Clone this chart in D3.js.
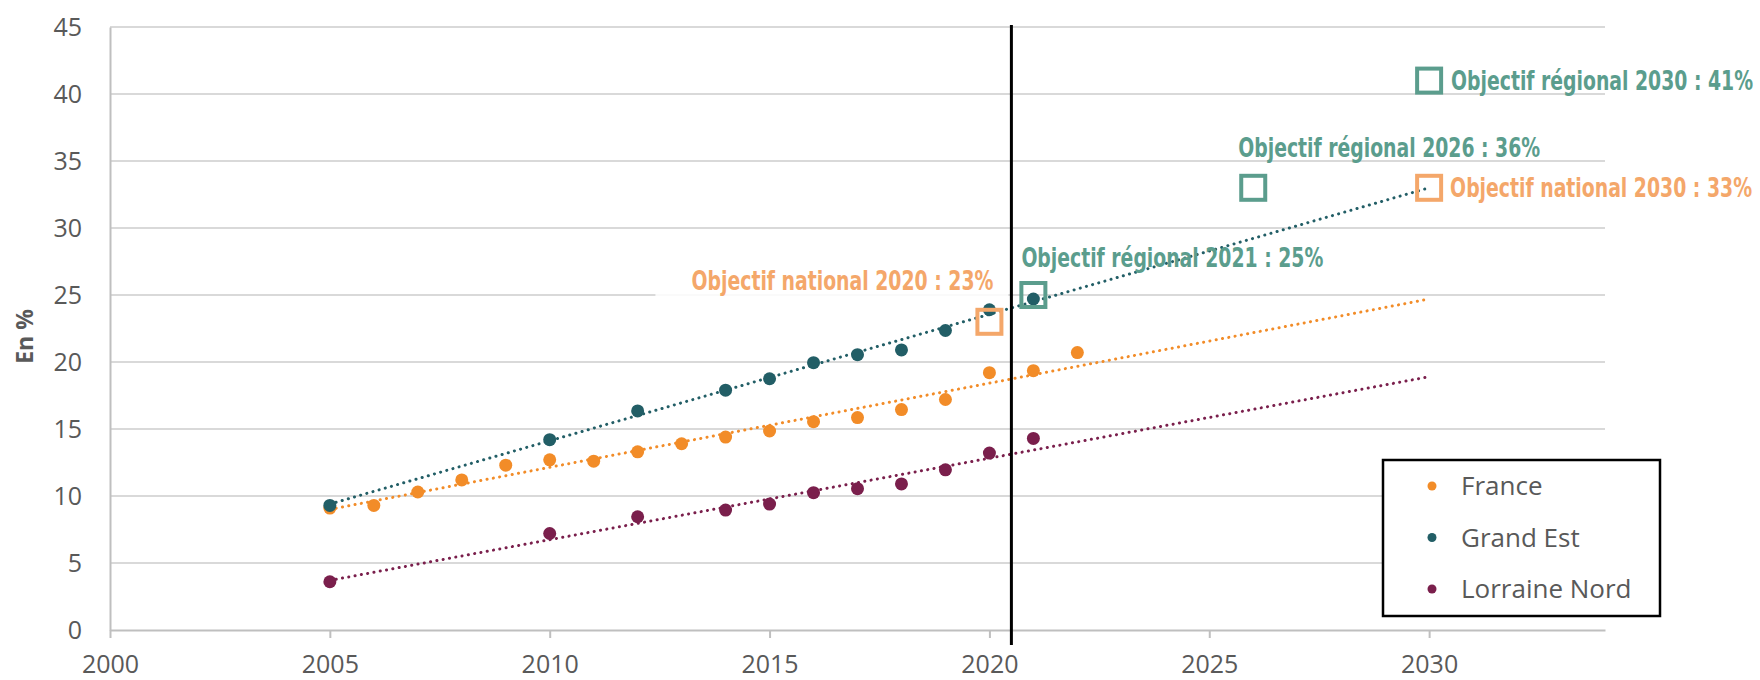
<!DOCTYPE html>
<html>
<head>
<meta charset="utf-8">
<script src="https://cdn.jsdelivr.net/npm/d3@7"></script>
<style>
  body { margin: 0; background: #fff; }
  svg { display: block; }
</style>
</head>
<body>
<div id="chart"></div>
<script>
// DATA
const franceYears = [2005, 2006, 2007, 2008, 2009, 2010, 2011, 2012, 2013, 2014, 2015, 2016, 2017, 2018, 2019, 2020, 2021, 2022];
const franceValues = [9.1, 9.3, 10.3, 11.2, 12.3, 12.7, 12.6, 13.3, 13.9, 14.4, 14.85, 15.55, 15.85, 16.45, 17.2, 19.2, 19.35, 20.7];

const grandEstYears = [2005, 2010, 2012, 2014, 2015, 2016, 2017, 2018, 2019, 2020, 2021];
const grandEstValues = [9.3, 14.2, 16.35, 17.9, 18.75, 19.95, 20.55, 20.9, 22.35, 23.9, 24.7];

const lorraineYears = [2005, 2010, 2012, 2014, 2015, 2016, 2017, 2018, 2019, 2020, 2021];
const lorraineValues = [3.6, 7.2, 8.45, 8.95, 9.4, 10.25, 10.55, 10.9, 11.95, 13.2, 14.3];

// trend lines (start / end)
const trendYears = [2005, 2030];
const franceTrend = [9.0, 24.7];
const grandEstTrend = [9.4, 33.0];
const lorraineTrend = [3.7, 18.9];

// targets
const targetYears = [2020, 2021, 2026, 2030, 2030];
const targetValues = [23, 25, 33, 41, 33];
const targetLabels = [
    "Objectif national 2020 : 23%",
    "Objectif régional 2021 : 25%",
    "Objectif régional 2026 : 36%",
    "Objectif régional 2030 : 41%",
    "Objectif national 2030 : 33%"
];
const targetKinds = ["national", "regional", "regional", "regional", "national"];

const seriesNames = ["France", "Grand Est", "Lorraine Nord"];
const xTicks = [2000, 2005, 2010, 2015, 2020, 2025, 2030];
const yTicks = [0, 5, 10, 15, 20, 25, 30, 35, 40, 45];
const markerYear = 2020.5;

// SET GLOBAL VARIABLES
const W = 1760, H = 680;
const margin = { top: 27, right: 155, bottom: 50, left: 110 };
const colors = { "France": "#f28c28", "Grand Est": "#225e66", "Lorraine Nord": "#7a1f4c" };
const targetColors = { national: "#f4a76a", regional: "#5b9d8d" };
const axisGrey = "#bfbfbf", gridGrey = "#d9d9d9", textGrey = "#595959";

const svg = d3.select("#chart")
    .append("svg")
    .attr("width", W)
    .attr("height", H);

const x = d3.scaleLinear()
    .domain([2000, 2034])
    .range([margin.left, W - margin.right]);

const y = d3.scaleLinear()
    .domain([0, 45])
    .range([H - margin.bottom, margin.top]);

// Gridlines
svg.append("g")
    .selectAll("line")
    .data(yTicks.filter(d => d > 0))
    .join("line")
    .attr("x1", x(2000))
    .attr("x2", x(2034))
    .attr("y1", d => y(d))
    .attr("y2", d => y(d))
    .attr("stroke", gridGrey)
    .attr("stroke-width", 2);

// X axis
const xAxis = svg.append("g")
    .attr("transform", `translate(0,${y(0)})`)
    .call(d3.axisBottom(x).tickValues(xTicks).tickFormat(d3.format("d")).tickSize(8).tickSizeOuter(0).tickPadding(17));
xAxis.select(".domain").attr("stroke", axisGrey).attr("stroke-width", 2);
xAxis.selectAll(".tick line").attr("stroke", axisGrey).attr("stroke-width", 2);
xAxis.selectAll("text")
    .attr("fill", textGrey)
    .style("font-family", "'Open Sans', sans-serif")
    .style("font-size", "25px");

// Y axis
const yAxis = svg.append("g")
    .attr("transform", `translate(${x(2000)},0)`)
    .call(d3.axisLeft(y).tickValues(yTicks).tickSize(0).tickSizeOuter(0).tickPadding(28));
yAxis.select(".domain").attr("stroke", axisGrey).attr("stroke-width", 2);
yAxis.selectAll("text")
    .attr("fill", textGrey)
    .style("font-family", "'Open Sans', sans-serif")
    .style("font-size", "25px");

// Axis label
svg.append("text")
    .attr("transform", `translate(33,${(y(0) + y(45)) / 2 + 8}) rotate(-90)`)
    .attr("text-anchor", "middle")
    .attr("fill", textGrey)
    .style("font-family", "'Open Sans', sans-serif")
    .style("font-weight", "bold")
    .style("font-size", "23px")
    .text("En %");

// Label background for national 2020 (hides the gridline)
svg.append("rect")
    .attr("x", x(2020) - 334)
    .attr("y", y(25) - 33)
    .attr("width", 353)
    .attr("height", 38)
    .attr("fill", "#fff")
    .attr("opacity", 0.85);

// Trend lines
const trendSeries = [
    { name: "France", values: franceTrend },
    { name: "Grand Est", values: grandEstTrend },
    { name: "Lorraine Nord", values: lorraineTrend }
];
const line = d3.line()
    .x((d, i) => x(trendYears[i]))
    .y(d => y(d));

svg.append("g")
    .selectAll("path")
    .data(trendSeries)
    .join("path")
    .attr("fill", "none")
    .attr("stroke", d => colors[d.name])
    .attr("stroke-width", 3)
    .attr("stroke-linecap", "round")
    .attr("stroke-dasharray", "0.1 6.3")
    .attr("d", d => line(d.values));

// Points
const pointSeries = [
    { name: "France", years: franceYears, values: franceValues },
    { name: "Grand Est", years: grandEstYears, values: grandEstValues },
    { name: "Lorraine Nord", years: lorraineYears, values: lorraineValues }
];
pointSeries.forEach(s => {
    svg.append("g")
        .selectAll("circle")
        .data(s.years)
        .join("circle")
        .attr("cx", d => x(d))
        .attr("cy", (d, i) => y(s.values[i]))
        .attr("r", 6.5)
        .attr("fill", colors[s.name]);
});

// Vertical marker line
svg.append("line")
    .attr("x1", x(markerYear))
    .attr("x2", x(markerYear))
    .attr("y1", y(45) - 2)
    .attr("y2", y(0) + 15)
    .attr("stroke", "#000")
    .attr("stroke-width", 3);

// Target squares
const sq = 24;
svg.append("g")
    .selectAll("rect")
    .data(targetYears)
    .join("rect")
    .attr("x", d => x(d) - sq / 2)
    .attr("y", (d, i) => y(targetValues[i]) - sq / 2)
    .attr("width", sq)
    .attr("height", sq)
    .attr("fill", "none")
    .attr("stroke", (d, i) => targetColors[targetKinds[i]])
    .attr("stroke-width", 4);

// Target labels (offsets from each square), squeezed horizontally to look condensed
const labelWidth = 302;
const labelOffsets = [
    { dx: 4, dy: -32, anchor: "end" },
    { dx: -12, dy: -28, anchor: "start" },
    { dx: -15, dy: -31, anchor: "start" },
    { dx: 22, dy: 9, anchor: "start" },
    { dx: 21, dy: 9, anchor: "start" }
];
svg.append("g")
    .selectAll("text")
    .data(targetLabels)
    .join("text")
    .attr("text-anchor", (d, i) => labelOffsets[i].anchor)
    .attr("fill", (d, i) => targetColors[targetKinds[i]])
    .style("font-family", "'DejaVu Sans Condensed', 'Liberation Sans Narrow', sans-serif")
    .style("font-stretch", "condensed")
    .style("font-weight", "bold")
    .style("font-size", "27px")
    .text(d => d)
    .attr("transform", function (d, i) {
        const k = labelWidth / this.getComputedTextLength();
        const tx = x(targetYears[i]) + labelOffsets[i].dx;
        const ty = y(targetValues[i]) + labelOffsets[i].dy;
        return `translate(${tx},${ty}) scale(${k},1)`;
    });

// Legend
const legend = svg.append("g").attr("transform", "translate(1383,460)");
legend.append("rect")
    .attr("width", 277)
    .attr("height", 156)
    .attr("fill", "#fff")
    .attr("stroke", "#000")
    .attr("stroke-width", 2.5);
const items = legend.selectAll("g")
    .data(seriesNames)
    .join("g")
    .attr("transform", (d, i) => `translate(0,${26 + i * 51.5})`);
items.append("circle")
    .attr("cx", 49)
    .attr("r", 4.5)
    .attr("fill", d => colors[d]);
items.append("text")
    .attr("x", 78)
    .attr("dy", "0.35em")
    .attr("fill", textGrey)
    .style("font-family", "'Open Sans', sans-serif")
    .style("font-size", "26px")
    .text(d => d);
</script>
</body>
</html>
